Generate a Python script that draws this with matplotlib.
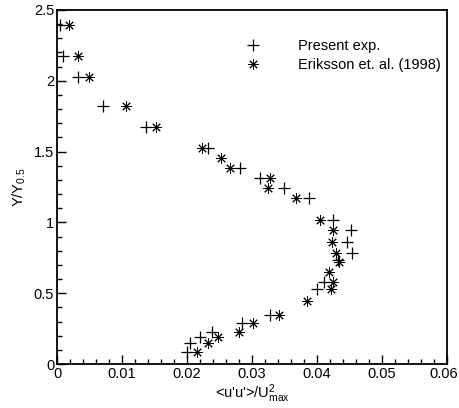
import matplotlib
matplotlib.use("Agg")
import matplotlib.pyplot as plt
from matplotlib.ticker import MultipleLocator

plt.rcParams['font.family'] = ['Liberation Sans', 'DejaVu Sans']
plt.rcParams['mathtext.fontset'] = 'custom'
plt.rcParams['mathtext.rm'] = 'Liberation Sans'
plt.rcParams['mathtext.it'] = 'Liberation Sans:italic'
plt.rcParams['mathtext.bf'] = 'Liberation Sans:bold'

present_x = [0.0005, 0.0009, 0.0033, 0.0071, 0.0137, 0.0232, 0.0282, 0.0312, 0.0349, 0.0387,
             0.0425, 0.0453, 0.0446, 0.0454, 0.0433, 0.0410, 0.0400, 0.0328, 0.0284, 0.0239,
             0.0220, 0.0205, 0.0200]
present_y = [2.396, 2.177, 2.030, 1.823, 1.673, 1.524, 1.382, 1.316, 1.241, 1.170,
             1.020, 0.944, 0.864, 0.787, 0.735, 0.577, 0.533, 0.346, 0.287, 0.228,
             0.188, 0.146, 0.087]

eriksson_x = [0.0019, 0.0032, 0.0049, 0.0106, 0.0152, 0.0223, 0.0253, 0.0266, 0.0327, 0.0325,
              0.0368, 0.0405, 0.0425, 0.0423, 0.0429, 0.0434, 0.0419, 0.0425, 0.0421, 0.0384,
              0.0342, 0.0302, 0.0280, 0.0248, 0.0233, 0.0215]
eriksson_y = [2.396, 2.177, 2.030, 1.823, 1.673, 1.524, 1.453, 1.382, 1.316, 1.241,
              1.170, 1.017, 0.944, 0.864, 0.787, 0.720, 0.652, 0.577, 0.528, 0.447,
              0.346, 0.287, 0.228, 0.188, 0.146, 0.087]

xmax = 0.06

fig = plt.figure(figsize=(4.59, 4.08), dpi=100)
ax = fig.add_axes([57/459, 44/408, 390/459, 354/408])

ax.plot(present_x, present_y, linestyle='none', marker='+', markersize=8,
        markeredgewidth=0.9, color='black', label='Present exp.')
ax.plot(eriksson_x, eriksson_y, linestyle='none', marker=(8, 2, 0), markersize=7.5,
        markeredgewidth=0.7, color='black', label='Eriksson et. al. (1998)')

ax.set_xlim(0, xmax)
ax.set_ylim(0, 2.5)
ax.xaxis.set_major_locator(MultipleLocator(0.01))
ax.xaxis.set_minor_locator(MultipleLocator(0.002))
ax.yaxis.set_major_locator(MultipleLocator(0.5))
ax.yaxis.set_minor_locator(MultipleLocator(0.1))


def xfmt(v, p):
    if abs(v - xmax) < 1e-9:
        return ''
    return '%g' % round(v, 4)


ax.xaxis.set_major_formatter(plt.FuncFormatter(xfmt))
ax.yaxis.set_major_formatter(plt.FuncFormatter(lambda v, p: ('%g' % round(v, 4))))
ax.tick_params(which='both', direction='in', top=False, right=False, labelsize=10.5, width=1)
ax.tick_params(which='major', length=6.5, pad=2)
ax.tick_params(which='minor', length=3.3)
for s in ax.spines.values():
    s.set_linewidth(1.3)

# last x tick label, nudged so it stays inside the figure edge
ax.annotate('%g' % xmax, xy=(xmax, 0), xycoords=('data', 'axes fraction'),
            xytext=(-2.5, -2), textcoords='offset points', ha='center', va='top',
            fontsize=10.5, annotation_clip=False)

ax.set_xlabel(r"<u'u'>/U$_{\rm max}^{\rm 2}$", fontsize=10.5, labelpad=1)
ax.set_ylabel(r"Y/Y$_{\rm 0.5}$", fontsize=10.5, labelpad=4)

ax.legend(loc='upper left', bbox_to_anchor=(237/459, 1 - 33/408), bbox_transform=fig.transFigure,
          frameon=False, fontsize=10.5, handlelength=1.4, handletextpad=2.35, labelspacing=0.35,
          numpoints=1, borderaxespad=0)

fig.savefig('out.png', dpi=100)
